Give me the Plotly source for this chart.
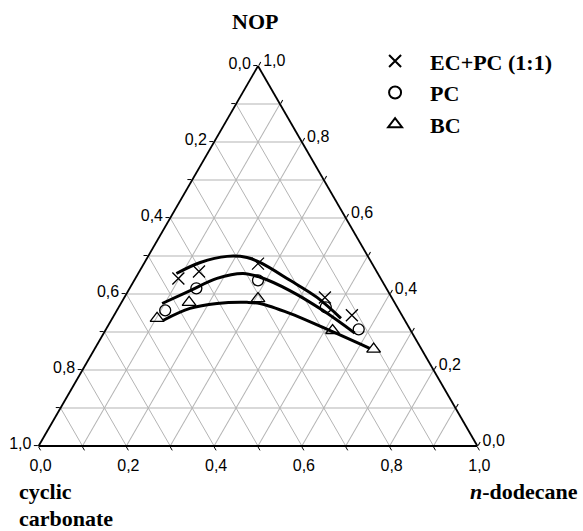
import plotly.graph_objects as go

# Tick labels (reference uses comma decimal separator, labels every 0.2, grid every 0.1)
tick_vals = [0.0, 0.1, 0.2, 0.3, 0.4, 0.5, 0.6, 0.7, 0.8, 0.9, 1.0]
tick_text_rev = ["1,0", "", "0,8", "", "0,6", "", "0,4", "", "0,2", "", "0,0"]

# Measured points: a = NOP, b = cyclic carbonate, c = n-dodecane
ecpc_nop = [0.441, 0.459, 0.480, 0.391, 0.344]
ecpc_carb = [0.461, 0.405, 0.260, 0.152, 0.114]
ecpc_dod = [0.098, 0.136, 0.260, 0.457, 0.542]

pc_nop = [0.357, 0.415, 0.436, 0.365, 0.307]
pc_carb = [0.533, 0.433, 0.282, 0.163, 0.117]
pc_dod = [0.110, 0.152, 0.282, 0.472, 0.576]

bc_nop = [0.336, 0.378, 0.388, 0.304, 0.255]
bc_carb = [0.562, 0.468, 0.306, 0.178, 0.109]
bc_dod = [0.102, 0.154, 0.306, 0.518, 0.636]

# Fitted binodal curves
ecpc_fit_nop = [0.454, 0.483, 0.499, 0.496, 0.483, 0.436, 0.391, 0.336]
ecpc_fit_carb = [0.459, 0.390, 0.321, 0.277, 0.254, 0.209, 0.170, 0.143]
ecpc_fit_dod = [0.087, 0.127, 0.180, 0.227, 0.263, 0.355, 0.439, 0.521]

pc_fit_nop = [0.375, 0.409, 0.441, 0.454, 0.444, 0.409, 0.357, 0.297]
pc_fit_carb = [0.531, 0.450, 0.373, 0.307, 0.273, 0.223, 0.174, 0.131]
pc_fit_dod = [0.094, 0.141, 0.186, 0.239, 0.283, 0.368, 0.469, 0.572]

bc_fit_nop = [0.331, 0.362, 0.375, 0.378, 0.375, 0.349, 0.312, 0.257]
bc_fit_carb = [0.550, 0.474, 0.406, 0.336, 0.308, 0.253, 0.196, 0.117]
bc_fit_dod = [0.119, 0.164, 0.219, 0.286, 0.317, 0.398, 0.492, 0.626]

SERIF = "Liberation Serif, Times New Roman, serif"
TITLE_SIZE = 22

fig = go.Figure()

line_style = dict(color="black", width=3, shape="spline")
for fa, fb, fc in [(ecpc_fit_nop, ecpc_fit_carb, ecpc_fit_dod),
                   (pc_fit_nop, pc_fit_carb, pc_fit_dod),
                   (bc_fit_nop, bc_fit_carb, bc_fit_dod)]:
    fig.add_trace(go.Scatterternary(a=fa, b=fb, c=fc, mode="lines",
                                    line=line_style, showlegend=False,
                                    hoverinfo="skip"))

series = [
    ("EC+PC (1:1)", ecpc_nop, ecpc_carb, ecpc_dod, "x-thin-open", 12),
    ("PC", pc_nop, pc_carb, pc_dod, "circle-open", 11),
    ("BC", bc_nop, bc_carb, bc_dod, "triangle-up-open", 12),
]
for name, a, b, c, sym, sz in series:
    fig.add_trace(go.Scatterternary(
        a=a, b=b, c=c, mode="markers", name=name,
        marker=dict(symbol=sym, size=sz, color="black",
                    line=dict(color="#333333", width=1.3)),
    ))

axis_common = dict(
    title=dict(text=""),
    tickmode="array", tickvals=tick_vals, ticktext=tick_text_rev,
    ticks="outside", ticklen=4, tickcolor="black", tickwidth=1.3,
    linecolor="black", linewidth=1.8,
    showgrid=True, gridcolor="#b4b4b4", gridwidth=1,
    tickfont=dict(family="Liberation Sans, Arial", size=16, color="black"),
    min=0,
)

fig.update_layout(
    width=583, height=531,
    margin=dict(l=38, r=105, t=66, b=85),
    paper_bgcolor="white",
    ternary=dict(
        domain=dict(x=[0, 1], y=[0, 1]),
        bgcolor="white",
        sum=1,
        aaxis=dict(**axis_common),
        baxis=dict(**axis_common),
        caxis=dict(**axis_common),
    ),
    showlegend=True,
    legend=dict(
        x=0.732, y=1.068, xanchor="left", yanchor="top",
        bgcolor="rgba(0,0,0,0)",
        font=dict(family=SERIF, size=TITLE_SIZE, color="black", weight="bold"),
        itemsizing="constant",
        itemwidth=60,
        tracegroupgap=0,
    ),
    annotations=[
        dict(text="NOP", x=0.493, y=1.116, xref="paper", yref="paper",
             showarrow=False, xanchor="center", yanchor="middle",
             font=dict(family=SERIF, size=TITLE_SIZE, color="black", weight="bold")),
        dict(text="cyclic", x=-0.048, y=-0.121, xref="paper", yref="paper",
             showarrow=False, xanchor="left", yanchor="middle",
             font=dict(family=SERIF, size=TITLE_SIZE, color="black", weight="bold")),
        dict(text="carbonate", x=-0.048, y=-0.19, xref="paper", yref="paper",
             showarrow=False, xanchor="left", yanchor="middle",
             font=dict(family=SERIF, size=TITLE_SIZE, color="black", weight="bold")),
        dict(text="<i>n</i>-dodecane", x=1.232, y=-0.121, xref="paper", yref="paper",
             showarrow=False, xanchor="right", yanchor="middle",
             font=dict(family=SERIF, size=TITLE_SIZE, color="black", weight="bold")),
    ],
)

fig.write_html("out.html")
